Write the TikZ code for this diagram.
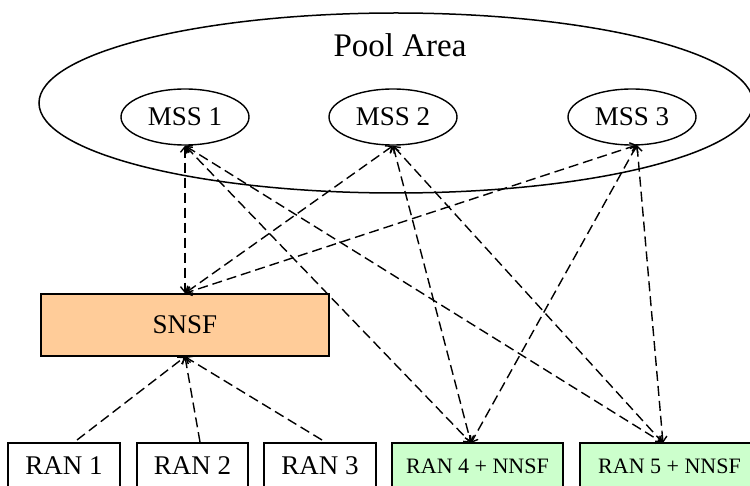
\documentclass[tikz,border=0pt]{standalone}
\usepackage{fontspec}
\setmainfont{Liberation Serif}
\usetikzlibrary{positioning,shapes.geometric,arrows.meta}
\definecolor{SnsfOrange}{RGB}{255,204,153}
\definecolor{NnsfGreen}{RGB}{204,255,204}
\tikzset{
  mss/.style={ellipse,draw=black,line width=1.4pt,fill=white,minimum width=128pt,minimum height=56pt,inner sep=0pt,font=\fontsize{27}{30}\selectfont},
  ranbox/.style={draw=black,line width=1.5pt,fill=white,minimum height=46pt,inner sep=0pt,font=\fontsize{27}{30}\selectfont},
  nnsfbox/.style={ranbox,fill=NnsfGreen,font=\fontsize{22}{26}\selectfont},
  link/.style={draw=black,line width=1.4pt,dash pattern=on 10pt off 5pt},
}
\tikzset{>={Straight Barb[length=5.5pt,width=9pt]}}

\begin{document}
\begin{tikzpicture}[x=1pt,y=-1pt]
\useasboundingbox (0,0) rectangle (750,486);
% pool
\node[ellipse,draw=black,line width=1.5pt,minimum width=714pt,minimum height=180pt,inner sep=0pt] (pool) at (396,103) {};
\node[font=\fontsize{33}{36}\selectfont] (pooltext) at (400,45) {Pool Area};
\node[mss] (mss1) at (185,117) {MSS 1};
\node[mss] (mss2) at (393,117) {MSS 2};
\node[mss] (mss3) at (632,117) {MSS 3};
% access side
\node[ranbox,fill=SnsfOrange,minimum width=288pt,minimum height=62pt] (snsf) at (185,325) {SNSF};
\node[ranbox,minimum width=112pt] (ran1) at (64,466) {RAN 1};
\node[ranbox,minimum width=111pt] (ran2) at (192.5,466) {RAN 2};
\node[ranbox,minimum width=112pt] (ran3) at (320,466) {RAN 3};
\node[nnsfbox,minimum width=171pt] (ran4) at (477.5,466) {RAN 4 + NNSF};
\node[nnsfbox,minimum width=179pt] (ran5) at (669.5,466) {RAN 5 + NNSF};
\coordinate (r1top) at (77,440);
\coordinate (r2top) at (200,442);
\coordinate (r3top) at (322,440);
\coordinate (r4top) at (471,443);
\coordinate (r5top) at (663,443);
\coordinate (m3bot) at (637,145);
% links
\draw[link,<->] (mss1.south) -- (snsf.north);
\draw[link,<->] (mss2.south) -- (snsf.north);
\draw[link,<->] (m3bot) -- (snsf.north);
\draw[link,<->] (mss1.south) -- (r4top);
\draw[link,<->] (mss2.south) -- (r4top);
\draw[link,<->] (m3bot) -- (r4top);
\draw[link,<->] (mss1.south) -- (r5top);
\draw[link,<->] (mss2.south) -- (r5top);
\draw[link,<->] (m3bot) -- (r5top);
\draw[link,->] (r1top) -- (snsf.south);
\draw[link,->] (r2top) -- (snsf.south);
\draw[link,->] (r3top) -- (snsf.south);
\end{tikzpicture}
\end{document}
